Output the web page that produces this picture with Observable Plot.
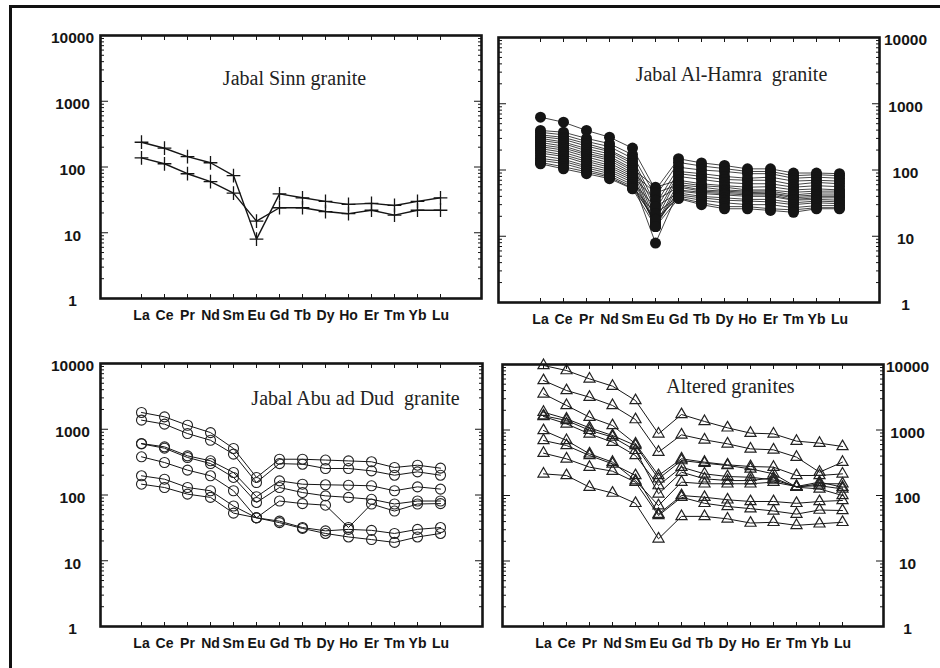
<!DOCTYPE html>
<html>
<head>
<meta charset="utf-8">
<script src="https://cdn.jsdelivr.net/npm/d3@7"></script>
<script src="https://cdn.jsdelivr.net/npm/@observablehq/plot@0.6"></script>
<style>
  body { margin: 0; background: #fff; }
  #page { position: relative; width: 940px; height: 668px; overflow: hidden; background: #fff; }
  #edge { position: absolute; left: 9px; top: 5px; width: 1000px; height: 1000px;
          border-top: 3px solid #111; border-left: 3px solid #111; }
  .panel { position: absolute; }
</style>
</head>
<body>
<div id="page"><div id="edge"></div></div>
<script>
// Rare earth elements, chondrite-normalised (log scale)
const elements = ["La", "Ce", "Pr", "Nd", "Sm", "Eu", "Gd", "Tb", "Dy", "Ho", "Er", "Tm", "Yb", "Lu"];
const decades = [1, 10, 100, 1000, 10000];

// Jabal Sinn granite
const sinnA = [238, 193, 144, 116, 74, 8, 39, 34, 30, 27, 28, 26, 30, 34];
const sinnB = [138, 112, 79, 60, 40, 15, 24, 24, 21, 19.5, 22, 18.5, 22, 22];
const sinn = [sinnA, sinnB];

// Jabal Al-Hamra granite
const hamra = [
  [627, 526, 395, 313, 214, 50, 148, 128, 117, 104, 104, 90, 90, 88],
  [395, 372, 300, 250, 170, 40, 130, 115, 105, 95, 95, 82, 85, 82],
  [370, 340, 270, 225, 150, 30, 110, 100, 95, 88, 88, 75, 78, 75],
  [340, 310, 250, 200, 135, 25, 95, 88, 80, 75, 78, 68, 70, 68],
  [320, 290, 230, 190, 125, 20, 88, 80, 72, 70, 70, 60, 65, 62],
  [300, 265, 210, 175, 115, 17, 80, 72, 65, 62, 62, 55, 58, 56],
  [280, 250, 195, 160, 105, 55, 70, 62, 58, 55, 56, 50, 52, 50],
  [260, 230, 180, 150, 98, 15, 65, 58, 55, 50, 50, 46, 48, 48],
  [240, 215, 170, 140, 90, 45, 60, 55, 50, 48, 48, 42, 45, 45],
  [225, 200, 158, 128, 85, 14, 58, 50, 48, 46, 45, 40, 42, 42],
  [210, 185, 145, 118, 80, 35, 55, 48, 46, 44, 44, 38, 40, 40],
  [195, 170, 135, 110, 75, 14, 50, 46, 44, 42, 42, 36, 38, 38],
  [180, 160, 125, 102, 70, 7.9, 48, 44, 42, 40, 40, 35, 36, 35],
  [165, 145, 115, 95, 65, 28, 45, 40, 38, 36, 36, 32, 34, 33],
  [150, 135, 108, 88, 60, 16, 42, 38, 35, 34, 33, 30, 32, 31],
  [140, 125, 100, 82, 56, 22, 40, 35, 32, 30, 30, 27, 29, 29],
  [130, 112, 94, 78, 53, 18, 38, 32, 28, 28, 26, 25, 27, 27],
  [124, 104, 88, 74, 52, 14, 37, 30, 26, 26, 24.5, 23, 26, 26]
];

// Jabal Abu ad Dud granite
const abuDud = [
  [1800, 1545, 1150, 890, 510, 185, 350, 350, 340, 330, 320, 262, 284, 256],
  [1375, 1195, 860, 680, 418, 155, 300, 294, 253, 253, 233, 200, 225, 200],
  [607, 540, 394, 331, 220, 94, 164, 146, 143, 141, 138, 116, 133, 123],
  [600, 515, 372, 301, 185, 77, 130, 109, 97, 92, 86, 73, 81, 81],
  [381, 312, 239, 196, 116, 45, 81, 74, 70, 32, 73, 57, 73, 74],
  [196, 174, 130, 116, 68, 45, 40, 32, 28.5, 30, 29, 26, 30, 32],
  [146, 130, 103, 92, 53, 45, 38, 31, 26, 23, 21, 19, 23, 26]
];

// Altered granites
const altered = [
  [9660, 8090, 6040, 4670, 2820, 873, 1725, 1350, 1080, 895, 873, 676, 630, 560],
  [5700, 4010, 3170, 2370, 1445, 459, 844, 708, 615, 515, 498, 385, 227, 323],
  [3565, 2370, 1570, 1172, 615, 202, 363, 323, 294, 277, 271, 202, 202, 214],
  [1870, 1480, 1080, 824, 580, 180, 342, 312, 287, 255, 214, 134, 151, 151],
  [1650, 1400, 990, 780, 490, 106, 227, 180, 169, 169, 186, 134, 126, 100],
  [1607, 1242, 873, 652, 408, 142, 271, 214, 195, 190, 173, 137, 160, 134],
  [982, 692, 433, 323, 169, 70, 160, 151, 151, 151, 160, 137, 141, 126],
  [692, 580, 408, 304, 202, 52, 100, 94, 86, 81, 81, 76, 81, 84],
  [443, 363, 271, 235, 160, 49.5, 94, 76, 68, 63, 58, 52, 60, 59],
  [214, 202, 134, 109, 76, 21.8, 48, 48, 44, 38, 39, 35, 37, 39]
];

// minor log ticks 2..9 within each decade
const minorTicks = [];
for (const d of [1, 10, 100, 1000]) for (let k = 2; k <= 9; k++) minorTicks.push(d * k);

const ink = "#151515";

function drawPanel(p) {
  const rows = p.series.flatMap((vals, i) => vals.map((v, j) => ({el: elements[j], v, s: i})));
  const [fl, fr, ft, fb] = p.frame;
  const chart = Plot.plot({
    width: p.width,
    height: p.height,
    marginLeft: fl,
    marginRight: p.width - fr,
    marginTop: ft,
    marginBottom: p.height - fb,
    x: {type: "point", domain: elements, range: p.xRange},
    y: {type: "log", domain: [1, 10000]},
    style: {
      fontFamily: "'Liberation Sans', Arial, sans-serif",
      fontSize: "15px",
      fontWeight: "bold",
      color: ink,
      background: "transparent",
      overflow: "visible"
    },
    marks: [
      Plot.line(rows, {x: "el", y: "v", z: "s", stroke: ink, strokeWidth: p.lineWidth}),
      p.dots(rows),
      Plot.axisY({ticks: minorTicks, anchor: "left", tickSize: -4, fill: "none", label: null}),
      Plot.axisY({ticks: minorTicks, anchor: "right", tickSize: -4, fill: "none", label: null}),
      Plot.axisY({ticks: decades, anchor: "left", tickSize: -8, fill: "none", label: null}),
      Plot.axisY({ticks: decades, anchor: "right", tickSize: -8, fill: "none", label: null}),
      Plot.axisY({ticks: decades, anchor: p.side, tickSize: 0, tickPadding: p.labelPad,
                  textAnchor: "middle", stroke: "none", dy: 3, fontSize: 15.5,
                  tickFormat: (d) => String(d), label: null}),
      Plot.axisX({anchor: "bottom", tickSize: -4, fill: "none", label: null}),
      Plot.axisX({anchor: "top", tickSize: -4, fill: "none", label: null}),
      Plot.axisX({anchor: "bottom", tickSize: 0, tickPadding: 12, stroke: "none", fontSize: 14, label: null}),
      Plot.frame({stroke: ink, strokeWidth: 2.6}),
      Plot.text([p.title], {
        frameAnchor: "top-left", dx: p.titleDx, dy: p.titleDy,
        textAnchor: "middle", lineAnchor: "middle",
        fontFamily: "'Liberation Serif', 'Times New Roman', serif",
        fontSize: 20, fontWeight: "normal", fill: "#222"
      })
    ]
  });
  const holder = document.createElement("div");
  holder.className = "panel";
  holder.style.left = p.left + "px";
  holder.style.top = p.top + "px";
  holder.appendChild(chart);
  document.getElementById("page").appendChild(holder);
}

drawPanel({
  series: sinn, left: 0, top: 0, width: 490, height: 340,
  frame: [100, 481, 35, 298], xRange: [125, 455],
  side: "left", labelPad: 28, lineWidth: 1.4,
  title: "Jabal Sinn granite", titleDx: 194, titleDy: 43,
  dots: (rows) => Plot.dot(rows, {x: "el", y: "v", symbol: "plus", r: 4.5, stroke: ink, strokeWidth: 1.3})
});

drawPanel({
  series: hamra, left: 490, top: 0, width: 450, height: 340,
  frame: [8, 389, 37, 302], xRange: [34, 365],
  side: "right", labelPad: 26, lineWidth: 0.8,
  title: "Jabal Al-Hamra \u00a0granite", titleDx: 233, titleDy: 37,
  dots: (rows) => Plot.dot(rows, {x: "el", y: "v", r: 5.5, fill: ink, stroke: "none"})
});

drawPanel({
  series: abuDud, left: 0, top: 340, width: 490, height: 328,
  frame: [100, 482, 23, 286], xRange: [125, 455],
  side: "left", labelPad: 28, lineWidth: 1,
  title: "Jabal Abu ad Dud \u00a0granite", titleDx: 255, titleDy: 35,
  dots: (rows) => Plot.dot(rows, {x: "el", y: "v", r: 5, fill: "none", stroke: "#222", strokeWidth: 1.1})
});

drawPanel({
  series: altered, left: 490, top: 340, width: 450, height: 328,
  frame: [12, 393, 24, 286], xRange: [37, 367],
  side: "right", labelPad: 24, lineWidth: 1,
  title: "Altered granites", titleDx: 228, titleDy: 22,
  dots: (rows) => Plot.dot(rows, {x: "el", y: "v", symbol: "triangle2", r: 5.3, fill: "none", stroke: "#222", strokeWidth: 1.2})
});
</script>
</body>
</html>
